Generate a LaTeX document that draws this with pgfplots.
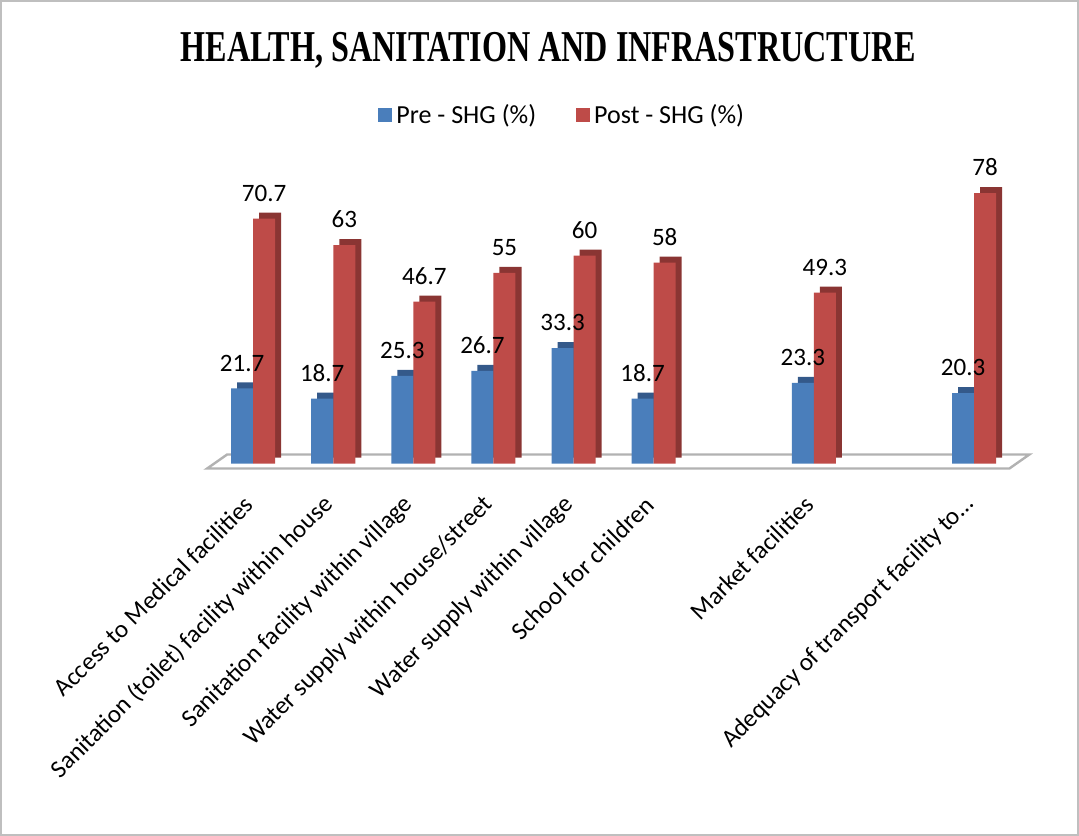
\documentclass[border=0pt]{standalone}
\usepackage{pgfplots}
\pgfplotsset{compat=1.18}
\usepackage{fontspec}
\usepackage{graphicx}
\setmainfont{Carlito}
\newfontfamily\titlefont{Liberation Serif}
\definecolor{preblue}{HTML}{4A7EBB}
\definecolor{predark}{HTML}{34598A}
\definecolor{postred}{HTML}{BE4B48}
\definecolor{postdark}{HTML}{8A3533}
\definecolor{framegray}{HTML}{BFBFBF}
\begin{document}
\begin{tikzpicture}
\begin{axis}[
  set layers,
  scale only axis,
  width=414pt, height=159.2pt,
  xmin=-0.6, xmax=9.75,
  ymin=-2, ymax=90,
  clip=false,
  axis x line*=bottom,
  axis y line=none,
  x axis line style={draw=none},
  major tick length=0pt,
  ytick=\empty,
  xtick={0,1,2,3,4,5,7,9},
  xticklabels={Access to Medical facilities,Sanitation (toilet) facility within house,Sanitation facility within village,Water supply within house/street,Water supply within village,School for children,Market facilities,Adequacy of transport facility to\dots},
  xticklabel style={yshift=-15pt, xshift=-2pt, rotate=45, anchor=east, inner sep=0pt, font=\fontsize{12.5}{15}\selectfont},
  ybar, bar width=0.275,
  /pgf/number format/assume math mode=true,
  legend style={at={(0.432,1.1149)}, anchor=center, draw=none, fill=none, legend columns=2, font=\fontsize{13}{15}\selectfont,
    /tikz/every even column/.append style={column sep=18pt}},
  legend image code/.code={\fill[#1] (0pt,-3.5pt) rectangle (7pt,3.5pt);},
]
\begin{pgfonlayer}{axis background}
\fill[white] (axis cs:-0.575,-1.45) -- (axis cs:9.44,-1.45) -- (axis cs:9.69,2.6) -- (axis cs:-0.325,2.6) -- cycle;
\draw[framegray!80!gray, line width=1.2pt] (axis cs:-0.575,-1.45) -- (axis cs:9.44,-1.45) -- (axis cs:9.69,2.6) -- (axis cs:-0.325,2.6) -- cycle;
\end{pgfonlayer}
% 3D side/top faces
\addplot[fill=predark, draw=none, bar shift=-0.1375, xshift=3pt, yshift=3pt, forget plot] coordinates {(0,21.7) (1,18.7) (2,25.3) (3,26.7) (4,33.3) (5,18.7) (7,23.3) (9,20.3)};
\addplot[fill=postdark, draw=none, bar shift=0.1375, xshift=3pt, yshift=3pt, forget plot] coordinates {(0,70.7) (1,63) (2,46.7) (3,55) (4,60) (5,58) (7,49.3) (9,78)};
% front faces
\addplot[fill=preblue, draw=none, bar shift=-0.1375,
  nodes near coords, every node near coord/.append style={font=\fontsize{12.5}{14}\selectfont, text=black, yshift=5pt},
  /pgf/number format/.cd, fixed, precision=1] coordinates {(0,21.7) (1,18.7) (2,25.3) (3,26.7) (4,33.3) (5,18.7) (7,23.3) (9,20.3)};
\addlegendentry{Pre - SHG (\%)}
\addplot[fill=postred, draw=none, bar shift=0.1375,
  nodes near coords, every node near coord/.append style={font=\fontsize{12.5}{14}\selectfont, text=black, yshift=5pt},
  /pgf/number format/.cd, fixed, precision=1] coordinates {(0,70.7) (1,63) (2,46.7) (3,55) (4,60) (5,58) (7,49.3) (9,78)};
\addlegendentry{Post - SHG (\%)}
\node at (rel axis cs:0.4143,1.3192) {\titlefont\bfseries\fontsize{22}{25}\selectfont\scalebox{0.73}[1]{HEALTH, SANITATION AND INFRASTRUCTURE}};
\draw[framegray, line width=0.8pt] (rel axis cs:-0.2464,-1.1439) rectangle (rel axis cs:1.0531,1.4731);
\end{axis}
\end{tikzpicture}
\end{document}
